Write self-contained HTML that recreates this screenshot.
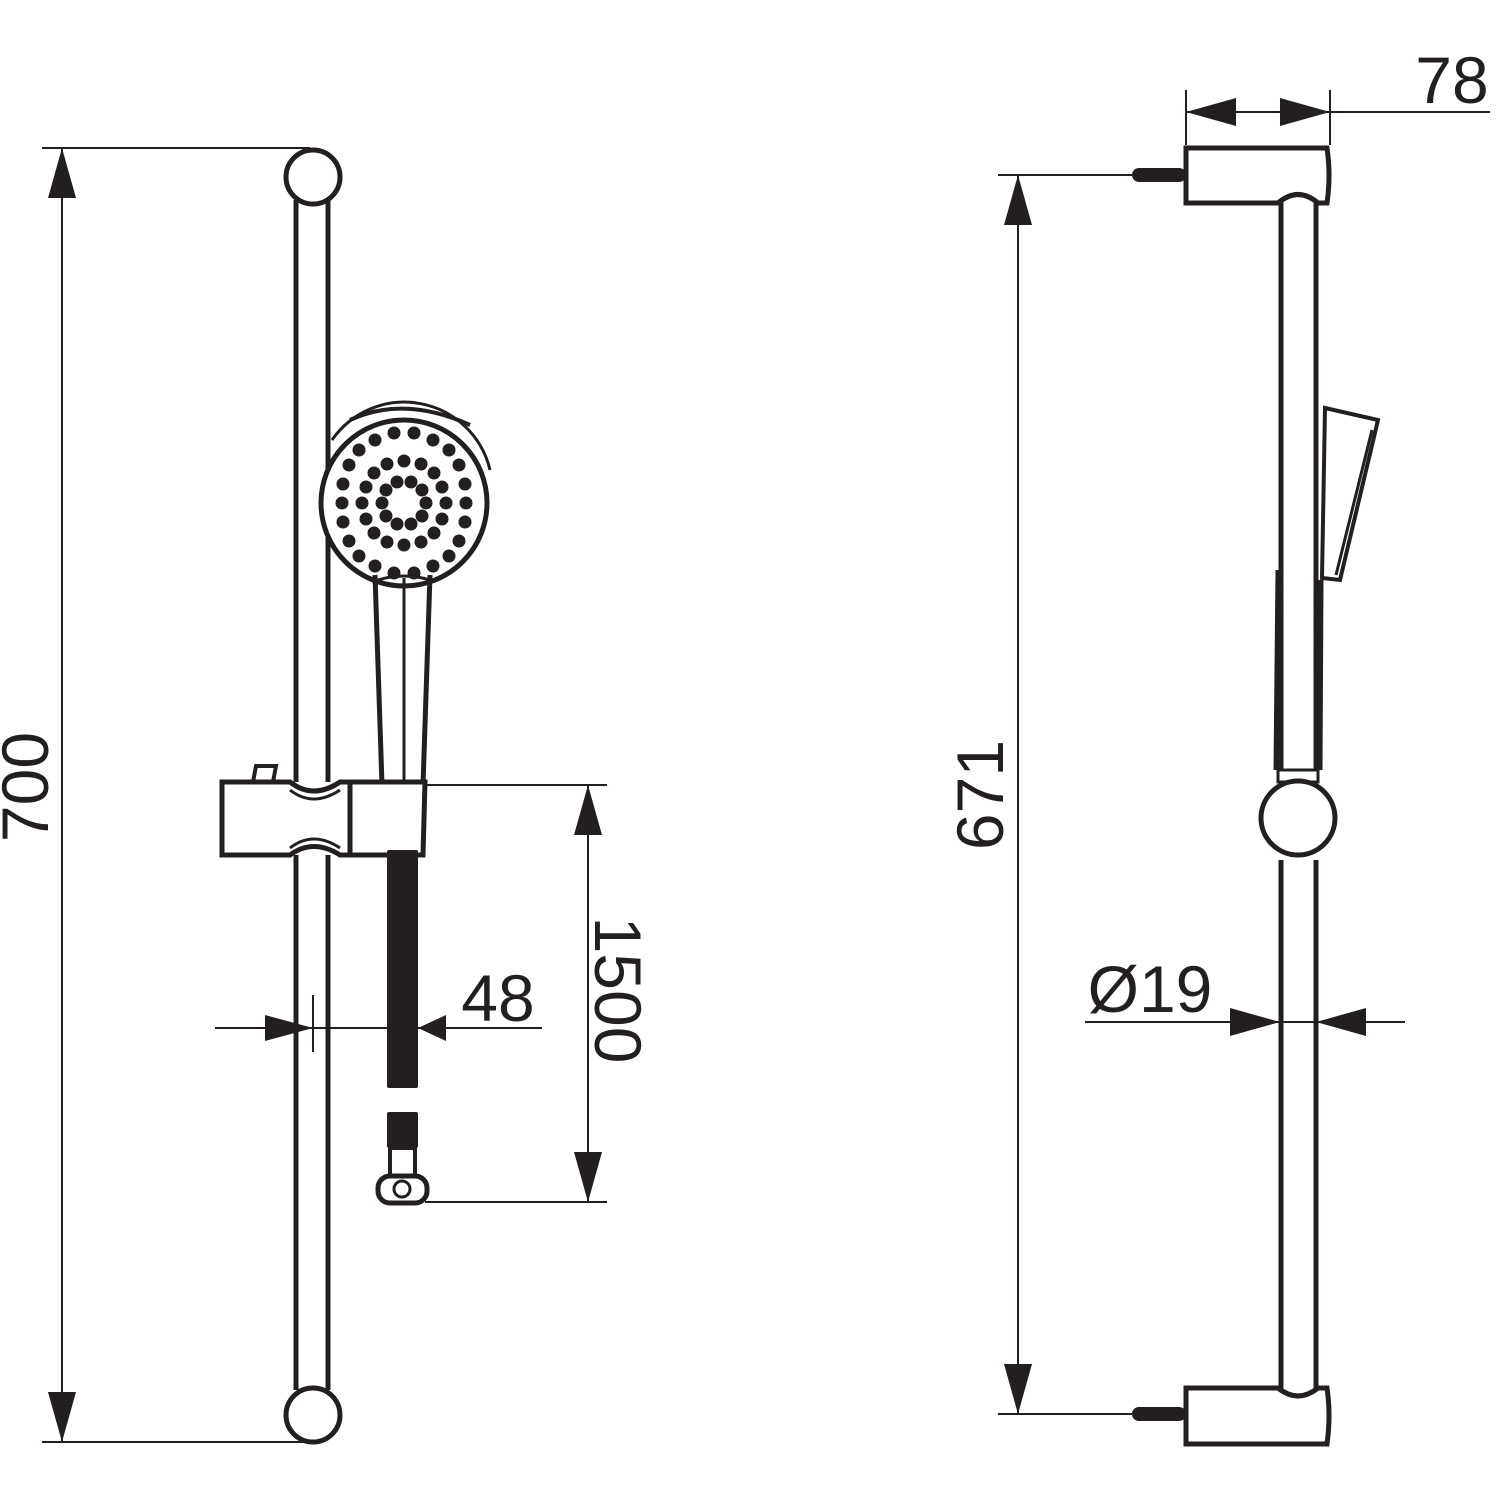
<!DOCTYPE html>
<html><head><meta charset="utf-8"><style>html,body{margin:0;padding:0;background:#fff}svg{display:block}</style></head>
<body>
<svg width="1500" height="1500" viewBox="0 0 1500 1500" xmlns="http://www.w3.org/2000/svg" font-family="Liberation Sans, sans-serif" fill="none" stroke="#231f20">
<g stroke-width="2">
<line x1="42" y1="148" x2="310" y2="148"/>
<line x1="42" y1="1442" x2="310" y2="1442"/>
<line x1="62" y1="148" x2="62" y2="1442"/>
</g>
<polygon points="62,148 48,198 76,198" fill="#231f20" stroke="none"/>
<polygon points="62,1442 48,1392 76,1392" fill="#231f20" stroke="none"/>
<text x="48" y="787" transform="rotate(-90 48 787)" font-size="66" fill="#231f20" stroke="none" text-anchor="middle">700</text>

<g stroke-width="5">
<line x1="296" y1="200" x2="296" y2="782"/>
<line x1="328" y1="200" x2="328" y2="782"/>
<line x1="296" y1="855" x2="296" y2="1390"/>
<line x1="328" y1="855" x2="328" y2="1390"/>
<circle cx="313" cy="177" r="27" fill="#fff"/>
<circle cx="313" cy="1415" r="27" fill="#fff"/>
</g>

<g stroke-width="5">
<path d="M332,440 A88,88 0 0 1 490,470" stroke-width="3"/>
<path d="M350,420 Q404,395 470,425" stroke-width="4"/>
<circle cx="404" cy="503" r="83" fill="#fff"/>
<path d="M375,575 L382,785 M430,575 L423,785"/>
<line x1="404" y1="578" x2="404" y2="785" stroke-width="3"/>
<path d="M378,580 Q404,572 430,580" stroke-width="3"/>
</g>

<g stroke-width="5">
<path d="M253,782 L256,766 L276,766 L273,782 Z" fill="#fff" stroke-width="4"/>
<path d="M222,782 L290,782 Q313,800 340,782 L425,782 L423,855 L340,855 Q313,838 290,855 L222,855 Z" fill="#fff"/>
<line x1="350" y1="782" x2="350" y2="855"/>
<path d="M290,790 Q313,808 340,790" stroke-width="3"/>
<path d="M290,848 Q313,830 340,848" stroke-width="3"/>
</g>
<rect x="387" y="850" width="31" height="238" rx="2" fill="#231f20" stroke="none"/>
<rect x="387" y="1112" width="31" height="36" rx="2" fill="#231f20" stroke="none"/>
<rect x="390" y="1148" width="25" height="28" fill="#fff" stroke-width="4"/>
<rect x="378" y="1176" width="49" height="27" rx="12" fill="#fff" stroke-width="5"/>
<circle cx="402" cy="1189" r="8" stroke-width="3"/>

<g stroke-width="2">
<line x1="425" y1="785" x2="607" y2="785"/>
<line x1="425" y1="1202" x2="607" y2="1202"/>
<line x1="588" y1="785" x2="588" y2="1202"/>
</g>
<polygon points="588,785 574,835 602,835" fill="#231f20" stroke="none"/>
<polygon points="588,1202 574,1152 602,1152" fill="#231f20" stroke="none"/>
<text x="595" y="990" transform="rotate(90 595 990)" font-size="66" fill="#231f20" stroke="none" text-anchor="middle">1500</text>

<g stroke-width="2">
<line x1="215" y1="1028" x2="542" y2="1028"/>
<line x1="313" y1="995" x2="313" y2="1052"/>
</g>
<polygon points="313,1028 265,1015 265,1041" fill="#231f20" stroke="none"/>
<polygon points="418,1028 446,1015 446,1041" fill="#231f20" stroke="none"/>
<text x="498" y="1021" font-size="66" fill="#231f20" stroke="none" text-anchor="middle">48</text>

<g stroke-width="2">
<line x1="1186" y1="90" x2="1186" y2="145"/>
<line x1="1330" y1="90" x2="1330" y2="145"/>
<line x1="1186" y1="112" x2="1490" y2="112"/>
</g>
<polygon points="1186,112 1236,98 1236,126" fill="#231f20" stroke="none"/>
<polygon points="1330,112 1280,98 1280,126" fill="#231f20" stroke="none"/>
<text x="1452" y="103" font-size="66" fill="#231f20" stroke="none" text-anchor="middle">78</text>

<g stroke-width="2">
<line x1="998" y1="175" x2="1132" y2="175"/>
<line x1="998" y1="1414" x2="1132" y2="1414"/>
<line x1="1018" y1="175" x2="1018" y2="1414"/>
</g>
<polygon points="1018,175 1004,225 1032,225" fill="#231f20" stroke="none"/>
<polygon points="1018,1414 1004,1364 1032,1364" fill="#231f20" stroke="none"/>
<text x="1003" y="795" transform="rotate(-90 1003 795)" font-size="66" fill="#231f20" stroke="none" text-anchor="middle">671</text>

<g stroke-width="5">
<line x1="1281" y1="200" x2="1281" y2="770"/>
<line x1="1316" y1="200" x2="1316" y2="770"/>
<line x1="1281" y1="860" x2="1281" y2="1390"/>
<line x1="1316" y1="860" x2="1316" y2="1390"/>
<path d="M1276,770 L1278,570"/>
<path d="M1320,770 L1321,580"/>
<rect x="1278" y="770" width="40" height="12" stroke-width="3"/>
<circle cx="1298" cy="818" r="37" fill="#fff"/>
<path d="M1186,148 L1327,148 Q1331,175 1327,203 L1318,203 Q1298,186 1278,203 L1186,203 Z" fill="#fff"/>
<path d="M1186,1444 L1327,1444 Q1331,1415 1327,1388 L1318,1388 Q1298,1404 1278,1388 L1186,1388 Z" fill="#fff"/>
<path d="M1325,408 L1378,420 L1340,580 L1322,578 Z" fill="#fff" stroke-width="4"/>
<line x1="1372" y1="430" x2="1336" y2="575" stroke-width="3"/>
</g>
<rect x="1132" y="168" width="54" height="14" rx="7" fill="#231f20" stroke="none"/>
<rect x="1132" y="1407" width="54" height="14" rx="7" fill="#231f20" stroke="none"/>

<line x1="1085" y1="1022" x2="1405" y2="1022" stroke-width="2"/>
<polygon points="1280,1022 1230,1008 1230,1036" fill="#231f20" stroke="none"/>
<polygon points="1316,1022 1366,1008 1366,1036" fill="#231f20" stroke="none"/>
<text x="1150" y="1012" font-size="66" fill="#231f20" stroke="none" text-anchor="middle">Ø19</text>

<g fill="#231f20" stroke="none">
<circle cx="466" cy="503" r="6.5"/><circle cx="465" cy="484" r="6.5"/><circle cx="459" cy="465" r="6.5"/><circle cx="449" cy="450" r="6.5"/><circle cx="433" cy="440" r="6.5"/><circle cx="414" cy="433" r="6.5"/><circle cx="394" cy="433" r="6.5"/><circle cx="375" cy="440" r="6.5"/><circle cx="359" cy="450" r="6.5"/><circle cx="349" cy="465" r="6.5"/><circle cx="343" cy="484" r="6.5"/><circle cx="342" cy="503" r="6.5"/><circle cx="343" cy="522" r="6.5"/><circle cx="349" cy="541" r="6.5"/><circle cx="359" cy="556" r="6.5"/><circle cx="375" cy="566" r="6.5"/><circle cx="394" cy="573" r="6.5"/><circle cx="414" cy="573" r="6.5"/><circle cx="433" cy="566" r="6.5"/><circle cx="449" cy="556" r="6.5"/><circle cx="459" cy="541" r="6.5"/><circle cx="465" cy="522" r="6.5"/>
<circle cx="446" cy="503" r="6.5"/><circle cx="442" cy="487" r="6.5"/><circle cx="434" cy="473" r="6.5"/><circle cx="421" cy="464" r="6.5"/><circle cx="404" cy="461" r="6.5"/><circle cx="387" cy="464" r="6.5"/><circle cx="374" cy="473" r="6.5"/><circle cx="366" cy="487" r="6.5"/><circle cx="362" cy="503" r="6.5"/><circle cx="366" cy="519" r="6.5"/><circle cx="374" cy="533" r="6.5"/><circle cx="387" cy="542" r="6.5"/><circle cx="404" cy="545" r="6.5"/><circle cx="421" cy="542" r="6.5"/><circle cx="434" cy="533" r="6.5"/><circle cx="442" cy="519" r="6.5"/>
<circle cx="426" cy="503" r="6.5"/><circle cx="422" cy="490" r="6.5"/><circle cx="411" cy="482" r="6.5"/><circle cx="397" cy="482" r="6.5"/><circle cx="386" cy="490" r="6.5"/><circle cx="382" cy="503" r="6.5"/><circle cx="386" cy="516" r="6.5"/><circle cx="397" cy="524" r="6.5"/><circle cx="411" cy="524" r="6.5"/><circle cx="422" cy="516" r="6.5"/>
</g>
</svg>
</body></html>
